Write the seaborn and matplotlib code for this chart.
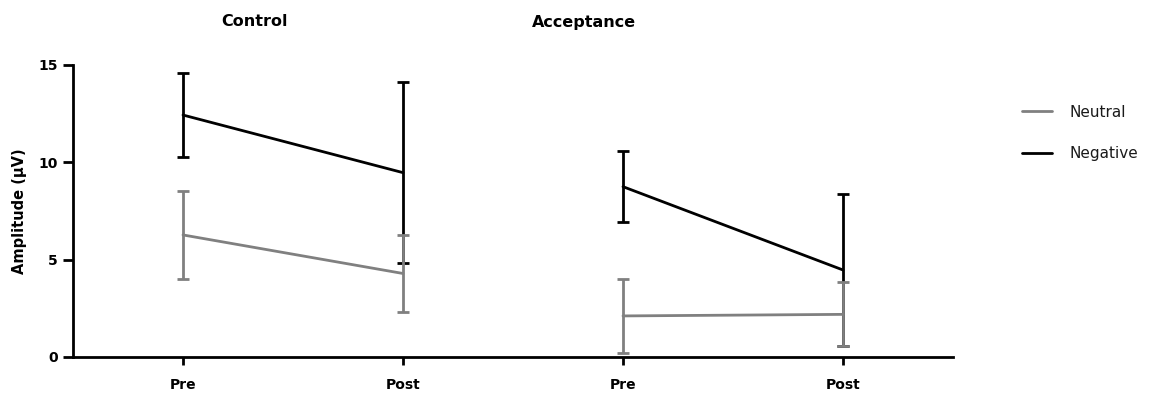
import matplotlib
matplotlib.use("Agg")
import matplotlib.pyplot as plt
import seaborn as sns
import pandas as pd
from matplotlib.lines import Line2D

groups = ["Control", "Control", "Acceptance", "Acceptance"]
times = ["Pre", "Post", "Pre", "Post"]
neutral_mean = [6.27, 4.29, 2.11, 2.19]
neutral_err = [2.25, 1.96, 1.90, 1.65]
negative_mean = [12.43, 9.47, 8.75, 4.47]
negative_err = [2.15, 4.65, 1.82, 3.90]
conditions = ["Neutral", "Negative"]
colors = {"Neutral": "#808080", "Negative": "#000000"}

rows = []
for i, (g, t) in enumerate(zip(groups, times)):
    rows.append(dict(pos=i, group=g, time=t, condition="Neutral", value=neutral_mean[i], err=neutral_err[i]))
    rows.append(dict(pos=i, group=g, time=t, condition="Negative", value=negative_mean[i], err=negative_err[i]))
df = pd.DataFrame(rows)

sns.set_style("ticks", {"axes.edgecolor": "black", "xtick.color": "black", "ytick.color": "black",
                        "text.color": "black", "axes.labelcolor": "black"})
plt.rcParams["font.family"] = ["DejaVu Sans"]

fig = plt.figure(figsize=(11.62, 3.95), dpi=100)
ax = fig.add_axes([73 / 1162, (395 - 357) / 395, (953 - 73) / 1162, (357 - 65) / 395])

for cond in ["Negative", "Neutral"]:
    sub = df[df.condition == cond]
    ax.errorbar(sub.pos, sub.value, yerr=sub.err, fmt="none", ecolor=colors[cond],
                elinewidth=2, capsize=4, capthick=2, zorder=2 if cond == "Negative" else 3)

sns.lineplot(data=df, x="pos", y="value", hue="condition", hue_order=["Neutral", "Negative"],
             units="group", estimator=None, palette=colors, linewidth=2, ax=ax, legend=False,
             zorder=4)

ax.set_xlim(-0.5, 3.5)
ax.set_ylim(0, 15)
ax.set_xticks(range(len(times)))
ax.set_xticklabels(times, fontsize=10, fontweight="bold", color="black")
ax.set_yticks([0, 5, 10, 15])
ax.set_yticklabels(["0", "5", "10", "15"], fontsize=10, fontweight="bold", color="black")
ax.set_xlabel("")
ax.set_ylabel("Amplitude (µV)", fontsize=10.5, fontweight="bold", labelpad=8, color="black")
for s in ["top", "right"]:
    ax.spines[s].set_visible(False)
for s in ["left", "bottom"]:
    ax.spines[s].set_linewidth(2)
    ax.spines[s].set_color("black")
ax.tick_params(axis="y", width=2, length=7, pad=4, color="black")
ax.tick_params(axis="x", width=2, length=6, pad=9, color="black")

handles = [Line2D([0], [0], color=colors[c], lw=2) for c in conditions]
leg = fig.legend(handles, conditions, loc="upper left", bbox_to_anchor=(1008 / 1162, 1 - 91 / 395),
                 frameon=False, fontsize=11, handlelength=2.0, handletextpad=1.1, labelspacing=1.75)
for t in leg.get_texts():
    t.set_color("#1a1a1a")

fig.text(255 / 1162, 1 - 22 / 395, "Control", ha="center", va="center", fontsize=11.5,
         fontweight="bold", color="black")
fig.text(584 / 1162, 1 - 22 / 395, "Acceptance", ha="center", va="center", fontsize=11.5,
         fontweight="bold", color="black")

fig.savefig("out.png", dpi=100)
